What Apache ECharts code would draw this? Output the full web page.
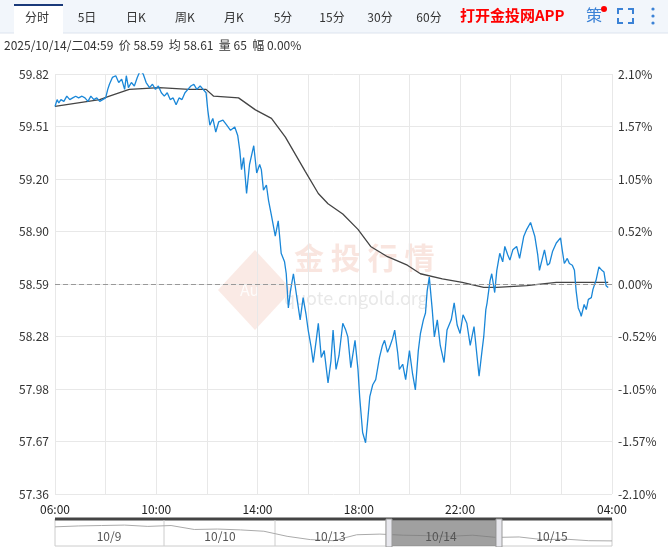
<!DOCTYPE html>
<html>
<head>
<meta charset="utf-8">
<script src="https://cdn.jsdelivr.net/npm/echarts@6/dist/echarts.min.js"></script>
<style>
  html, body { margin: 0; padding: 0; background: #fff; }
  #chart { width: 668px; height: 547px; }
</style>
</head>
<body>
<div id="chart"></div>
<script>
// minutes since 06:00
const priceTimes = [0,5,9,14,21,28,35,42,49,56,64,71,78,85,92,99,106,113,120,125,129,136,144,151,158,165,169,174,181,188,195,202,209,216,224,231,238,245,252,259,266,273,280,287,294,301,308,315,322,329,336,344,351,358,362,367,374,381,388,398,407,416,426,433,438,442,447,454,461,471,478,485,489,494,501,506,513,522,529,536,544,548,553,558,565,572,581,588,595,600,607,612,619,624,631,638,647,654,659,666,673,682,689,694,701,711,718,722,729,736,741,746,753,760,769,776,781,788,793,800,805,812,816,824,831,840,847,854,861,866,873,878,882,887,894,899,906,913,922,929,939,946,953,960,967,976,984,993,1000,1005,1012,1016,1021,1024,1031,1035,1042,1047,1054,1061,1066,1073,1078,1085,1094,1101,1111,1118,1127,1132,1137,1144,1148,1155,1160,1167,1172,1179,1188,1198,1202,1207,1214,1219,1226,1231,1235,1240,1245,1247,1254,1259,1264,1271,1275,1282,1289,1296,1301,1306,1311];
const prices = [59.63,59.67,59.65,59.67,59.66,59.69,59.67,59.68,59.69,59.68,59.69,59.68,59.66,59.69,59.67,59.68,59.66,59.67,59.68,59.73,59.76,59.80,59.81,59.77,59.79,59.73,59.81,59.74,59.77,59.75,59.80,59.84,59.82,59.77,59.74,59.76,59.73,59.75,59.71,59.69,59.71,59.67,59.68,59.64,59.68,59.67,59.71,59.73,59.75,59.76,59.73,59.75,59.73,59.71,59.61,59.52,59.56,59.48,59.54,59.55,59.52,59.49,59.51,59.46,59.37,59.26,59.33,59.12,59.29,59.40,59.24,59.29,59.26,59.14,59.17,59.08,58.99,58.87,58.96,58.77,58.72,58.65,58.45,58.55,58.65,58.53,58.38,58.51,58.41,58.32,58.22,58.13,58.26,58.36,58.16,58.20,58.01,58.14,58.32,58.09,58.17,58.36,58.32,58.28,58.10,58.26,58.09,57.93,57.72,57.66,57.79,57.93,58.00,58.03,58.16,58.23,58.26,58.19,58.22,58.27,58.32,58.19,58.09,58.12,58.03,58.20,58.07,57.97,58.20,58.30,58.38,58.42,58.55,58.63,58.44,58.28,58.38,58.23,58.13,58.32,58.38,58.48,58.35,58.30,58.41,58.36,58.23,58.34,58.17,58.05,58.20,58.28,58.44,58.48,58.61,58.65,58.54,58.67,58.77,58.72,58.81,58.76,58.73,58.79,58.81,58.74,58.87,58.91,58.95,58.91,58.87,58.76,58.67,58.74,58.79,58.70,58.71,58.78,58.83,58.86,58.79,58.71,58.74,58.71,58.70,58.67,58.55,58.45,58.42,58.40,58.47,58.44,58.50,58.51,58.56,58.61,58.69,58.67,58.66,58.58,58.57];
const avgTimes = [0,106,129,176,247,318,358,376,435,475,513,546,593,624,647,682,718,748,788,835,866,918,965,1016,1047,1118,1188,1259,1311];
const avgPrices = [59.63,59.67,59.69,59.73,59.74,59.73,59.73,59.69,59.68,59.61,59.56,59.45,59.25,59.12,59.06,59.00,58.91,58.81,58.75,58.70,58.65,58.62,58.60,58.57,58.57,58.58,58.60,58.60,58.60];

const BASE = 58.59;
const STEP = 0.3075;
const leftLabels = ['57.36','57.67','57.98','58.28','58.59','58.90','59.20','59.51','59.82'];
const rightLabels = ['-2.10%','-1.57%','-1.05%','-0.52%','0.00%','0.52%','1.05%','1.57%','2.10%'];
const timeLabels = {0:'06:00', 240:'10:00', 480:'14:00', 720:'18:00', 960:'22:00', 1320:'04:00'};

// overview strip (5 days), relative height 0..1
const dayLabels = ['10/9','10/10','10/13','10/14','10/15'];
const overview = [0.78,0.82,0.84,0.86,0.80,0.84,0.66,0.68,0.64,0.58,0.35,0.20,0.15,0.42,0.45,0.40,0.38,0.35,0.40,0.30,0.32,0.20,0.22,0.15,0.14];

const chart = echarts.init(document.getElementById('chart'));

const idx = v => Math.round((v + 1.23) / STEP);
const lblColor = i => i > 4 ? '#ff2020' : (i < 4 ? '#18a818' : '#333');

const font = '"Noto Sans CJK SC", "Liberation Sans", sans-serif';
const tabs = [['分时',37],['5日',87],['日K',136],['周K',185],['月K',234],['5分',283],['15分',332],['30分',380],['60分',429]];

const graphics = [
  { type: 'rect', shape: { x: 0, y: 0, width: 668, height: 33 }, style: { fill: '#f2f6fb' } },
  { type: 'line', shape: { x1: 0, y1: 33, x2: 668, y2: 33 }, style: { stroke: '#dde4ee' } },
  { type: 'rect', shape: { x: 14, y: 4, width: 49, height: 30 }, style: { fill: '#fff' } },
  { type: 'rect', shape: { x: 14, y: 4, width: 49, height: 2 }, style: { fill: '#1a3a7a' } },
  { type: 'text', left: 460, top: 8, style: { text: '打开金投网APP', fill: '#ff0000', font: 'bold 15px ' + font } },
  { type: 'text', left: 586, top: 7, style: { text: '策', fill: '#3b82d6', font: '16px ' + font } },
  { type: 'circle', shape: { cx: 604, cy: 9, r: 3 }, style: { fill: '#ff0000' } },
  { type: 'polyline', shape: { points: [[618,14],[618,9],[623,9]] }, style: { stroke: '#3b82d6', lineWidth: 2, fill: null } },
  { type: 'polyline', shape: { points: [[628,9],[633,9],[633,14]] }, style: { stroke: '#3b82d6', lineWidth: 2, fill: null } },
  { type: 'polyline', shape: { points: [[618,18],[618,23],[623,23]] }, style: { stroke: '#3b82d6', lineWidth: 2, fill: null } },
  { type: 'polyline', shape: { points: [[628,23],[633,23],[633,18]] }, style: { stroke: '#3b82d6', lineWidth: 2, fill: null } },
  { type: 'circle', shape: { cx: 653, cy: 9, r: 1.6 }, style: { fill: '#3b82d6' } },
  { type: 'circle', shape: { cx: 653, cy: 16, r: 1.6 }, style: { fill: '#3b82d6' } },
  { type: 'circle', shape: { cx: 653, cy: 23, r: 1.6 }, style: { fill: '#3b82d6' } },
  { type: 'text', left: 4, top: 39, style: { text: '2025/10/14/二04:59  价 58.59  均 58.61  量 65  幅 0.00%', fill: '#333', font: '12px ' + font } },
  // watermark
  { type: 'polygon', shape: { points: [[255,250],[292,290],[255,330],[218,290]] }, style: { fill: 'rgba(235,170,150,0.25)' }, z: 0 },
  { type: 'text', left: 240, top: 282, style: { text: 'Au', fill: 'rgba(255,255,255,0.85)', font: '16px ' + font }, z: 0 },
  { type: 'text', left: 294, top: 243, style: { text: '金 投 行 情', fill: 'rgba(235,170,150,0.3)', font: 'bold 30px ' + font }, z: 0 },
  { type: 'text', left: 284, top: 289, style: { text: 'quote.cngold.org', fill: 'rgba(190,190,190,0.35)', font: '18px ' + font }, z: 0 },
  // overview strip frame
  { type: 'rect', shape: { x: 55, y: 519, width: 557, height: 27 }, style: { fill: 'none', stroke: '#ccc' } },
  { type: 'line', shape: { x1: 55, y1: 519, x2: 612, y2: 519 }, style: { stroke: '#444', lineWidth: 3 } }
];
tabs.forEach(t => graphics.push({ type: 'text', x: t[1], y: 17, style: { text: t[0], fill: '#333', font: '12px ' + font, align: 'center', verticalAlign: 'middle' } }));
[164, 275, 386, 496].forEach(x => graphics.push({ type: 'line', shape: { x1: x, y1: 520, x2: x, y2: 546 }, style: { stroke: '#ccc' } }));
[109, 220, 330, 441, 552].forEach((x, i) => graphics.push({ type: 'text', x: x, y: 536, style: { text: dayLabels[i], fill: '#555', font: '12px ' + font, align: 'center', verticalAlign: 'middle' }, z: 5 }));
graphics.push({ type: 'rect', shape: { x: 390, y: 520, width: 108, height: 26 }, style: { fill: 'rgba(120,120,120,0.7)' }, z: 4 });
graphics.push({ type: 'rect', shape: { x: 386, y: 519, width: 6, height: 28 }, style: { fill: '#e8e8ee', stroke: '#999' }, z: 6 });
graphics.push({ type: 'rect', shape: { x: 496, y: 519, width: 6, height: 28 }, style: { fill: '#e8e8ee', stroke: '#999' }, z: 6 });

const option = {
  animation: false,
  textStyle: { fontFamily: font },
  graphic: graphics,
  grid: [
    { left: 55, right: 56, top: 74, bottom: 53 },
    { left: 55, right: 56, top: 522, height: 22 }
  ],
  xAxis: [
    {
      type: 'value', min: 0, max: 1320, interval: 120,
      axisLine: { show: false }, axisTick: { show: false },
      splitLine: { lineStyle: { color: '#e8e8e8' } },
      axisLabel: {
        color: '#222', fontSize: 12, margin: 9, showMaxLabel: true,
        formatter: v => timeLabels[v] || '',
        align: 'center'
      }
    },
    { type: 'value', gridIndex: 1, min: 0, max: overview.length - 1, show: false }
  ],
  yAxis: [
    {
      type: 'value', min: -1.23, max: 1.23, interval: STEP,
      axisLine: { show: false }, axisTick: { show: false },
      splitLine: { lineStyle: { color: '#e8e8e8' } },
      axisLabel: {
        fontSize: 12, margin: 6,
        formatter: v => leftLabels[idx(v)],
        color: v => lblColor(idx(v))
      }
    },
    {
      type: 'value', min: -1.23, max: 1.23, interval: STEP, position: 'right',
      axisLine: { show: false }, axisTick: { show: false }, splitLine: { show: false },
      axisLabel: {
        fontSize: 12, margin: 6,
        formatter: v => rightLabels[idx(v)],
        color: v => lblColor(idx(v))
      }
    },
    { type: 'value', gridIndex: 1, min: 0, max: 1, show: false }
  ],
  series: [
    {
      type: 'line', name: 'price', showSymbol: false,
      data: priceTimes.map((t, i) => [t, prices[i] - BASE]),
      lineStyle: { color: '#1a87d8', width: 1.3 },
      markLine: {
        silent: true, symbol: 'none', label: { show: false },
        lineStyle: { color: '#999', type: [5, 3], width: 1 },
        data: [{ yAxis: 0 }]
      },
      z: 3
    },
    {
      type: 'line', name: 'avg', showSymbol: false,
      data: avgTimes.map((t, i) => [t, avgPrices[i] - BASE]),
      lineStyle: { color: '#444', width: 1.3 },
      z: 2
    },
    {
      type: 'line', xAxisIndex: 1, yAxisIndex: 2, showSymbol: false,
      data: overview.map((v, i) => [i, v]),
      lineStyle: { color: '#aaa', width: 1 }
    }
  ]
};

chart.setOption(option);
</script>
</body>
</html>
